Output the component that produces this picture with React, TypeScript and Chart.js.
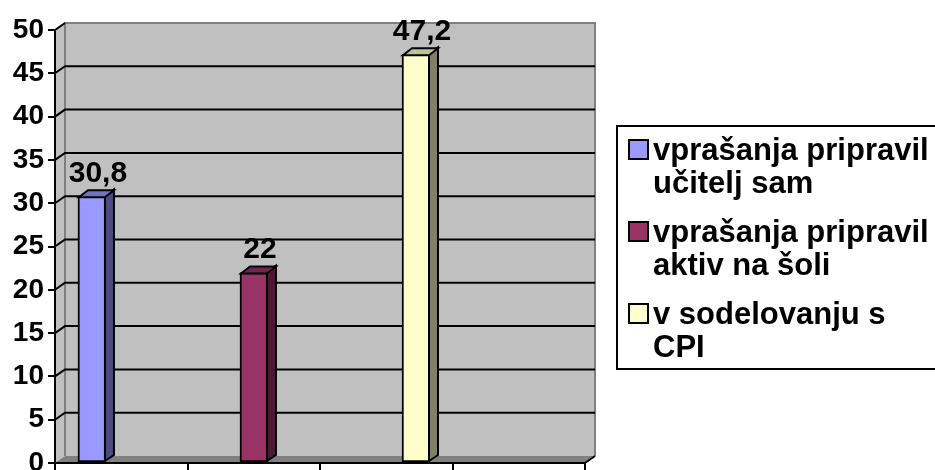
import React, { useEffect, useRef } from 'react';
import { Chart, registerables } from 'chart.js';

Chart.register(...registerables);

// ---- data ----
const legendLines: string[][] = [
  ['vprašanja pripravil', 'učitelj sam'],
  ['vprašanja pripravil', 'aktiv na šoli'],
  ['v sodelovanju s', 'CPI'],
];
const seriesNames: string[] = legendLines.map((l) => l.join(' '));
const seriesValues: number[] = [30.8, 22, 47.2];
const seriesSlots: number[] = [0, 1, 2];
const yRange: number[] = [0, 50];
const yStep = 5;
const floorSlots: string[] = ['', '', '', ''];

// ---- styles ----
const frontColors = ['#9999FF', '#993366', '#FFFFCC'];
const sideColors = ['#4C4C80', '#4C1933', '#808066'];
const topColors = ['#7373C0', '#73264D', '#C0C099'];
const FONT = '"Liberation Sans", Arial, Helvetica, sans-serif';
const WALL_DX = 10;
const WALL_DY = 7;
const BAR_DX = 9;
const BAR_DY = 7;
const X_MIN = -0.228;
const X_MAX = 3.043;

const fmt = (v: number) => String(v).replace('.', ',');

const wallPlugin = {
  id: 'wall3d',
  beforeDraw(chart: any) {
    const { ctx, chartArea: a, scales } = chart;
    const ys = scales.y;
    const L = a.left, R = a.right, T = a.top, B = a.bottom;
    ctx.save();
    ctx.fillStyle = '#FFFFFF';
    ctx.fillRect(0, 0, chart.width, chart.height);
    ctx.fillStyle = '#C0C0C0';
    ctx.fillRect(L + WALL_DX, T - WALL_DY, R - L, B - T);
    ctx.beginPath();
    ctx.moveTo(L, B);
    ctx.lineTo(L, T);
    ctx.lineTo(L + WALL_DX, T - WALL_DY);
    ctx.lineTo(L + WALL_DX, B - WALL_DY);
    ctx.closePath();
    ctx.fill();
    ctx.fillStyle = '#808080';
    ctx.beginPath();
    ctx.moveTo(L, B);
    ctx.lineTo(L + WALL_DX, B - WALL_DY);
    ctx.lineTo(R + WALL_DX, B - WALL_DY);
    ctx.lineTo(R, B);
    ctx.closePath();
    ctx.fill();
    ctx.strokeStyle = '#808080';
    ctx.lineWidth = 2;
    ctx.beginPath();
    ctx.moveTo(L + WALL_DX, B - WALL_DY);
    ctx.lineTo(L + WALL_DX, T - WALL_DY);
    ctx.lineTo(R + WALL_DX, T - WALL_DY);
    ctx.lineTo(R + WALL_DX, B - WALL_DY);
    ctx.stroke();
    ctx.strokeStyle = '#000000';
    ctx.lineWidth = 2;
    ys.ticks.forEach((t: any) => {
      const v = t.value;
      if (v <= yRange[0]) return;
      const yf = ys.getPixelForValue(v);
      const yb = yf - WALL_DY;
      ctx.beginPath();
      ctx.moveTo(L, yf);
      ctx.lineTo(L + WALL_DX, yb);
      if (v < yRange[1]) ctx.lineTo(R + WALL_DX, yb);
      ctx.stroke();
    });
    ctx.beginPath();
    ctx.moveTo(R, B);
    ctx.lineTo(R + WALL_DX, B - WALL_DY);
    ctx.stroke();
    ctx.restore();
  },
};

const barPlugin = {
  id: 'bar3d',
  afterDatasetsDraw(chart: any) {
    const { ctx } = chart;
    ctx.save();
    ctx.lineWidth = 2;
    ctx.strokeStyle = '#000000';
    chart.data.datasets.forEach((ds: any, i: number) => {
      const meta = chart.getDatasetMeta(i);
      meta.data.forEach((bar: any, j: number) => {
        const { x, y, base, width } = bar.getProps(['x', 'y', 'base', 'width'], true);
        const l = x - width / 2;
        const r = x + width / 2;
        ctx.fillStyle = sideColors[i];
        ctx.beginPath();
        ctx.moveTo(r - 1, y);
        ctx.lineTo(r - 1 + BAR_DX, y - BAR_DY);
        ctx.lineTo(r - 1 + BAR_DX, base - BAR_DY);
        ctx.lineTo(r - 1, base - 1);
        ctx.closePath();
        ctx.fill();
        ctx.stroke();
        ctx.fillStyle = topColors[i];
        ctx.beginPath();
        ctx.moveTo(l + 1, y + 1);
        ctx.lineTo(l + 1 + BAR_DX, y + 1 - BAR_DY);
        ctx.lineTo(r - 1 + BAR_DX, y + 1 - BAR_DY);
        ctx.lineTo(r - 1, y + 1);
        ctx.closePath();
        ctx.fill();
        ctx.stroke();
        const v = ds.data[j].y;
        ctx.fillStyle = '#000000';
        ctx.font = `bold 30px ${FONT}`;
        ctx.textAlign = 'center';
        ctx.textBaseline = 'alphabetic';
        ctx.fillText(fmt(v), x + 6, y - 14);
      });
    });
    ctx.restore();
  },
};

const legendPlugin = {
  id: 'legendBox',
  afterDraw(chart: any) {
    const { ctx } = chart;
    const boxL = 617, boxT = 126, boxB = 369;
    const firstBase = 160, lineGap = 33, itemGap = 82;
    ctx.save();
    ctx.lineWidth = 2;
    ctx.strokeStyle = '#000000';
    ctx.strokeRect(boxL, boxT, chart.width - boxL + 20, boxB - boxT);
    ctx.font = `bold 31px ${FONT}`;
    ctx.textAlign = 'left';
    ctx.textBaseline = 'alphabetic';
    chart.data.datasets.forEach((ds: any, i: number) => {
      const by = firstBase + i * itemGap;
      ctx.fillStyle = frontColors[i];
      ctx.fillRect(629, by - 20, 19, 19);
      ctx.strokeRect(629, by - 20, 19, 19);
      ctx.fillStyle = '#000000';
      legendLines[i].forEach((line, k) => {
        ctx.fillText(line, 653, by + k * lineGap);
      });
    });
    ctx.restore();
  },
};

export default function App() {
  const ref = useRef<HTMLCanvasElement>(null);
  useEffect(() => {
    const canvas = ref.current;
    if (!canvas) return;
    const chart = new Chart(canvas, {
      type: 'bar',
      data: {
        datasets: seriesValues.map((v, i) => ({
          label: seriesNames[i],
          data: [{ x: seriesSlots[i], y: v }],
          backgroundColor: frontColors[i],
          borderColor: '#000000',
          borderWidth: 2,
          borderSkipped: false,
          barThickness: 28,
          grouped: false,
          xAxisID: 'x',
          yAxisID: 'y',
        })),
      },
      options: {
        animation: false,
        responsive: false,
        devicePixelRatio: 1,
        events: [],
        layout: { padding: { top: 30, right: 350, bottom: 0, left: 0 } },
        plugins: { legend: { display: false }, tooltip: { enabled: false } },
        scales: {
          x: {
            type: 'linear',
            display: false,
            offset: false,
            bounds: 'data',
            min: X_MIN,
            max: X_MAX,
            grid: { offset: false },
            afterBuildTicks(s: any) {
              s.min = X_MIN;
              s.max = X_MAX;
            },
          },
          x2: {
            type: 'category',
            position: 'bottom',
            labels: floorSlots,
            offset: true,
            grid: { offset: true, drawOnChartArea: false, color: '#000000', lineWidth: 2, tickLength: 7 },
            border: { display: true, color: '#000000', width: 2 },
            ticks: { display: false },
            afterFit(s: any) {
              s.height = 7;
              s.paddingLeft = 0;
              s.paddingRight = 0;
            },
          },
          y: {
            type: 'linear',
            min: yRange[0],
            max: yRange[1],
            ticks: {
              stepSize: yStep,
              color: '#000000',
              padding: 4,
              font: { family: FONT, size: 28, weight: 'bold' },
            },
            grid: { drawOnChartArea: false, color: '#000000', lineWidth: 2, tickLength: 7 },
            border: { display: true, color: '#000000', width: 2 },
            afterFit(s: any) {
              s.width = 55;
              s.paddingTop = 0;
              s.paddingBottom = 0;
            },
          },
        },
      } as any,
      plugins: [wallPlugin, barPlugin, legendPlugin],
    });
    return () => chart.destroy();
  }, []);
  return (
    <div style={{ position: 'fixed', left: 0, top: 0, width: 935, height: 470, overflow: 'hidden', background: '#fff' }}>
      <canvas ref={ref} width={935} height={470} style={{ display: 'block', width: 935, height: 470 }} />
    </div>
  );
}
